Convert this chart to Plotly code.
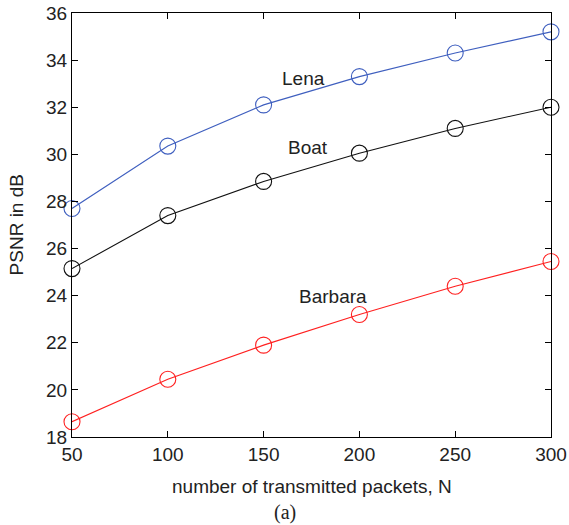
import plotly.graph_objects as go

packets = [50, 100, 150, 200, 250, 300]
lena = [27.7, 30.35, 32.1, 33.3, 34.3, 35.2]
boat = [25.15, 27.4, 28.85, 30.05, 31.1, 32.0]
barbara = [18.65, 20.45, 21.9, 23.2, 24.4, 25.45]

series = [("Lena", lena, "#3f5fbf"), ("Boat", boat, "#111111"), ("Barbara", barbara, "#ff2020")]
labels = [("Lena", 171, 33.2), ("Boat", 173, 30.3), ("Barbara", 186, 23.98)]

FONT = "Liberation Sans, Arial, Helvetica"
TXT = "#222222"

fig = go.Figure()
for name, vals, col in series:
    fig.add_trace(go.Scatter(
        x=packets, y=vals, mode="lines+markers", name=name,
        line=dict(color=col, width=1.1),
        marker=dict(symbol="circle-open", size=16, color=col, line=dict(width=1.1, color=col)),
        cliponaxis=False,
    ))

for txt, xv, yv in labels:
    fig.add_annotation(x=xv, y=yv, text=txt, showarrow=False,
                       font=dict(family=FONT, size=19, color=TXT))

# axis titles and caption
fig.add_annotation(xref="paper", yref="paper", x=0.5, y=-0.116, text="number of transmitted packets, N",
                   showarrow=False, xanchor="center", yanchor="middle",
                   font=dict(family=FONT, size=19, color=TXT))
fig.add_annotation(xref="paper", yref="paper", x=-0.116, y=0.5, text="PSNR in dB", textangle=-90,
                   showarrow=False, xanchor="center", yanchor="middle",
                   font=dict(family=FONT, size=19, color=TXT))
fig.add_annotation(xref="paper", yref="paper", x=0.445, y=-0.178, text="(a)", showarrow=False,
                   xanchor="center", yanchor="middle",
                   font=dict(family="Liberation Serif, Times New Roman", size=20, color=TXT))

axis_common = dict(showline=True, linecolor="black", linewidth=1, mirror="allticks",
                   ticks="inside", ticklen=6, tickcolor="black", showgrid=False, zeroline=False,
                   automargin=False,
                   tickfont=dict(family=FONT, size=19, color=TXT))

fig.update_xaxes(range=[50, 300], tickvals=packets, ticktext=[str(p) for p in packets], **axis_common)
fig.update_yaxes(range=[18, 36], tickvals=list(range(18, 37, 2)), **axis_common)

fig.update_layout(width=569, height=525, showlegend=False, template="none",
                  margin=dict(l=72, r=18, t=13, b=88),
                  plot_bgcolor="white", paper_bgcolor="white")

fig.write_html("out.html", config={"displayModeBar": False},
               post_script="document.body.style.margin='0';document.body.style.overflow='hidden';")
